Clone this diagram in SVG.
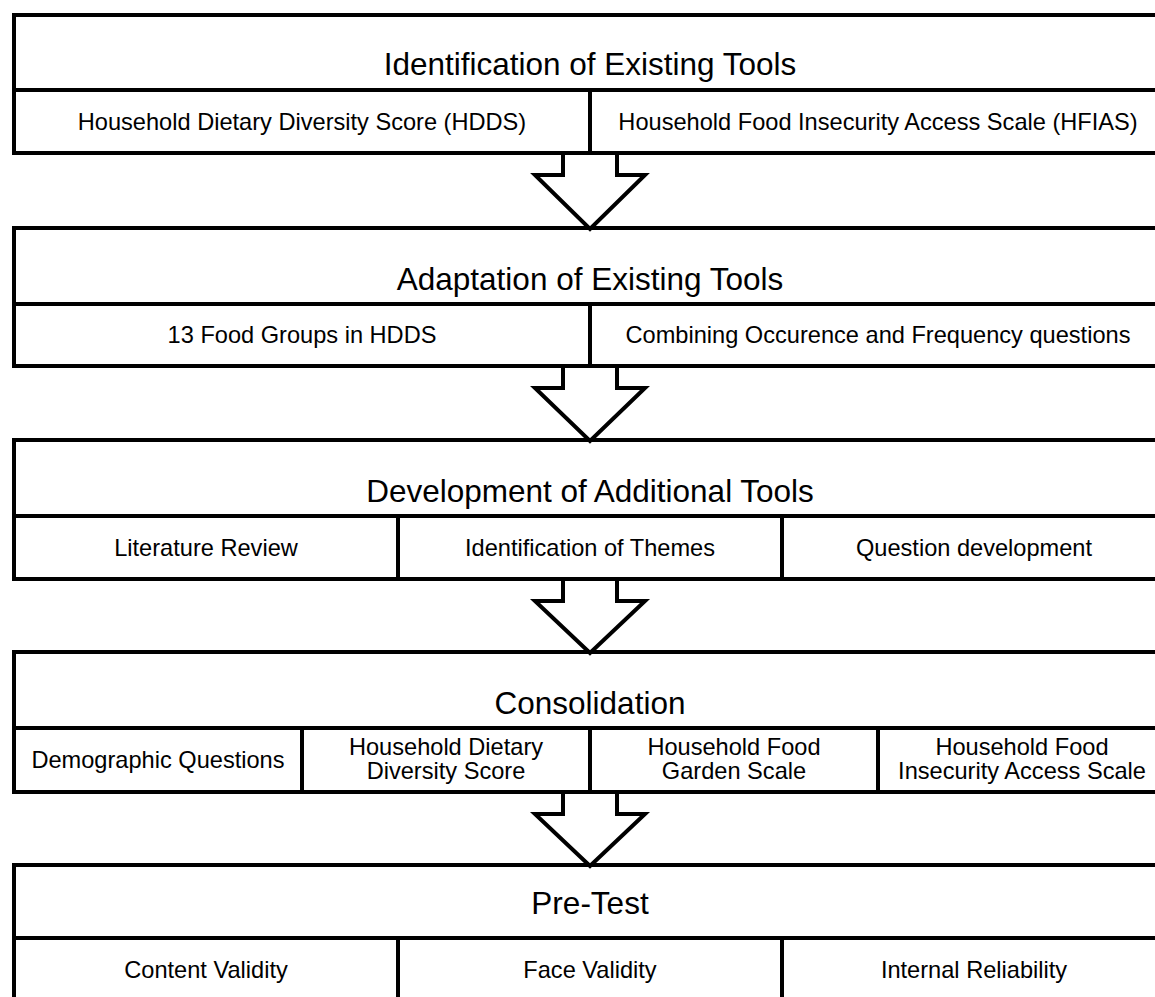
<svg xmlns="http://www.w3.org/2000/svg" width="1155" height="997" viewBox="0 0 1155 997">
<style>
.box{fill:#fff;stroke:#000;stroke-width:4}
.ln{stroke:#000;stroke-width:4;fill:none}
.arr{fill:#fff;stroke:#000;stroke-width:4;stroke-linejoin:miter}
.t{font-family:"Liberation Sans",Arial,Helvetica,sans-serif;font-size:31.5px;fill:#000;text-anchor:middle}
.s{font-family:"Liberation Sans",Arial,Helvetica,sans-serif;font-size:23.6px;fill:#000;text-anchor:middle}
</style>
<rect width="1155" height="997" fill="#fff"/>
<g id="stage1">
<rect class="box" x="14" y="15" width="1152" height="138"/>
<line class="ln" x1="14" y1="90" x2="1166" y2="90"/>
<line class="ln" x1="590" y1="90" x2="590" y2="153"/>
<text class="t" x="590" y="75">Identification of Existing Tools</text>
<text class="s" x="302" y="130">Household Dietary Diversity Score (HDDS)</text>
<text class="s" x="878" y="130">Household Food Insecurity Access Scale (HFIAS)</text>
</g>
<g id="stage2">
<rect class="box" x="14" y="228" width="1152" height="138"/>
<line class="ln" x1="14" y1="304" x2="1166" y2="304"/>
<line class="ln" x1="590" y1="304" x2="590" y2="366"/>
<text class="t" x="590" y="290">Adaptation of Existing Tools</text>
<text class="s" x="302" y="343">13 Food Groups in HDDS</text>
<text class="s" x="878" y="343">Combining Occurence and Frequency questions</text>
</g>
<g id="stage3">
<rect class="box" x="14" y="440" width="1152" height="139"/>
<line class="ln" x1="14" y1="516" x2="1166" y2="516"/>
<line class="ln" x1="398" y1="516" x2="398" y2="579"/>
<line class="ln" x1="782" y1="516" x2="782" y2="579"/>
<text class="t" x="590" y="502">Development of Additional Tools</text>
<text class="s" x="206" y="556">Literature Review</text>
<text class="s" x="590" y="556">Identification of Themes</text>
<text class="s" x="974" y="556">Question development</text>
</g>
<g id="stage4">
<rect class="box" x="14" y="652" width="1152" height="140"/>
<line class="ln" x1="14" y1="728" x2="1166" y2="728"/>
<line class="ln" x1="302" y1="728" x2="302" y2="792"/>
<line class="ln" x1="590" y1="728" x2="590" y2="792"/>
<line class="ln" x1="878" y1="728" x2="878" y2="792"/>
<text class="t" x="590" y="714">Consolidation</text>
<text class="s" x="158" y="768">Demographic Questions</text>
<text class="s" x="446" y="755">Household Dietary</text>
<text class="s" x="446" y="779">Diversity Score</text>
<text class="s" x="734" y="755">Household Food</text>
<text class="s" x="734" y="779">Garden Scale</text>
<text class="s" x="1022" y="755">Household Food</text>
<text class="s" x="1022" y="779">Insecurity Access Scale</text>
</g>
<g id="stage5">
<rect class="box" x="14" y="865" width="1152" height="140"/>
<line class="ln" x1="14" y1="938" x2="1166" y2="938"/>
<line class="ln" x1="398" y1="938" x2="398" y2="1005"/>
<line class="ln" x1="782" y1="938" x2="782" y2="1005"/>
<text class="t" x="590" y="914">Pre-Test</text>
<text class="s" x="206" y="978">Content Validity</text>
<text class="s" x="590" y="978">Face Validity</text>
<text class="s" x="974" y="978">Internal Reliability</text>
</g>
<g id="connectors">
<polyline class="arr" points="563,155 563,175 535,175 590,229 645,175 617,175 617,155"/>
<polyline class="arr" points="563,368 563,388 535,388 590,441 645,388 617,388 617,368"/>
<polyline class="arr" points="563,581 563,601 535,601 590,653 645,601 617,601 617,581"/>
<polyline class="arr" points="563,794 563,814 535,814 590,866 645,814 617,814 617,794"/>
</g>
</svg>
